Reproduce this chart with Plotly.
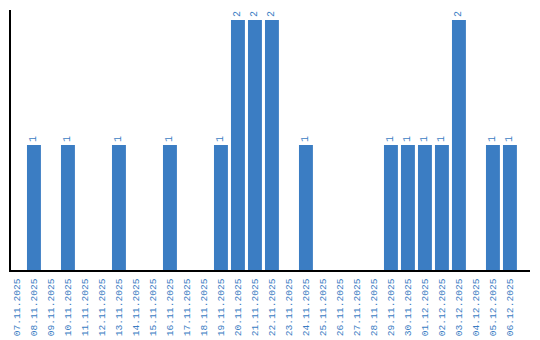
import plotly.graph_objects as go

dates = ["07.11.2025", "08.11.2025", "09.11.2025", "10.11.2025", "11.11.2025", "12.11.2025",
         "13.11.2025", "14.11.2025", "15.11.2025", "16.11.2025", "17.11.2025", "18.11.2025",
         "19.11.2025", "20.11.2025", "21.11.2025", "22.11.2025", "23.11.2025", "24.11.2025",
         "25.11.2025", "26.11.2025", "27.11.2025", "28.11.2025", "29.11.2025", "30.11.2025",
         "01.12.2025", "02.12.2025", "03.12.2025", "04.12.2025", "05.12.2025", "06.12.2025"]
counts = [0, 1, 0, 1, 0, 0, 1, 0, 0, 1, 0, 0, 1, 2, 2, 2, 0, 1, 0, 0, 0, 0, 1, 1, 1, 1, 2, 0, 1, 1]

labels = [str(v) if v > 0 else "" for v in counts]
color = "#3b7dc3"
font = "Liberation Mono"

fig = go.Figure(go.Bar(
    x=list(range(len(dates))), y=counts,
    marker=dict(color=color, line=dict(width=0)),
    text=labels, textposition="outside", textangle=-90,
    textfont=dict(family=font, size=10, color=color),
    cliponaxis=False,
))
fig.update_layout(
    width=540, height=340,
    margin=dict(l=11, r=10, t=10, b=70, autoexpand=False),
    paper_bgcolor="white", plot_bgcolor="white",
    bargap=0.18, showlegend=False,
    xaxis=dict(
        tickmode="array", tickvals=list(range(len(dates))), ticktext=dates,
        tickangle=-90, tickfont=dict(family=font, size=9.6, color=color),
        ticklabelstandoff=3, automargin=False,
        range=[-0.35, 30.18], showline=True, linecolor="black", linewidth=1.5,
        showgrid=False, zeroline=False, ticks="", fixedrange=True,
    ),
    yaxis=dict(
        range=[0, 2.08], showline=True, linecolor="black", linewidth=1.5,
        showgrid=False, zeroline=False, showticklabels=False, ticks="",
        automargin=False,
    ),
)
fig.write_html("out.html")
